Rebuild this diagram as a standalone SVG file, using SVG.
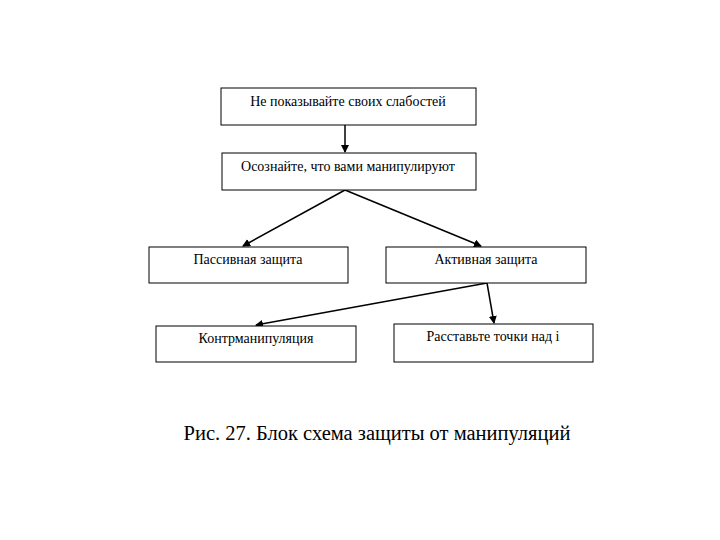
<svg xmlns="http://www.w3.org/2000/svg" width="720" height="540" viewBox="0 0 720 540">
<style>
.box{fill:#fff;stroke:#000;stroke-width:1}
.t{font-family:"Liberation Serif","DejaVu Serif",serif;font-size:14px;fill:#000;text-anchor:middle}
.c{stroke:#000;stroke-width:1.5;fill:none;marker-end:url(#ah)}
.cap{font-family:"Liberation Serif","DejaVu Serif",serif;font-size:20.5px;fill:#000;text-anchor:middle}
</style>
<defs>
<marker id="ah" markerWidth="8" markerHeight="8" refX="7" refY="4" orient="auto" markerUnits="userSpaceOnUse">
<path d="M0,0 L8,4 L0,8 Z" fill="#000"/>
</marker>
</defs>
<rect width="720" height="540" fill="#fff"/>
<g id="connectors">
<line class="c" x1="345" y1="125" x2="345" y2="152"/>
<line class="c" x1="345" y1="190" x2="243" y2="246"/>
<line class="c" x1="345" y1="190" x2="481" y2="246"/>
<line class="c" x1="487" y1="283" x2="256" y2="325"/>
<line class="c" x1="487" y1="283" x2="494" y2="323"/>
</g>
<g id="n1"><rect class="box" x="221" y="88" width="255" height="37"/><text class="t" x="348" y="106">Не показывайте своих слабостей</text></g>
<g id="n2"><rect class="box" x="222" y="153" width="254" height="37"/><text class="t" x="348" y="171">Осознайте, что вами манипулируют</text></g>
<g id="n3"><rect class="box" x="149" y="247" width="199" height="36"/><text class="t" x="248" y="264">Пассивная защита</text></g>
<g id="n4"><rect class="box" x="386" y="247" width="200" height="36"/><text class="t" x="486" y="264">Активная защита</text></g>
<g id="n5"><rect class="box" x="156" y="326" width="200" height="36"/><text class="t" x="256" y="343">Контрманипуляция</text></g>
<g id="n6"><rect class="box" x="394" y="324" width="199" height="38"/><text class="t" x="493" y="341">Расставьте точки над і</text></g>
<text class="cap" x="377" y="440">Рис. 27. Блок схема защиты от манипуляций</text>
</svg>
